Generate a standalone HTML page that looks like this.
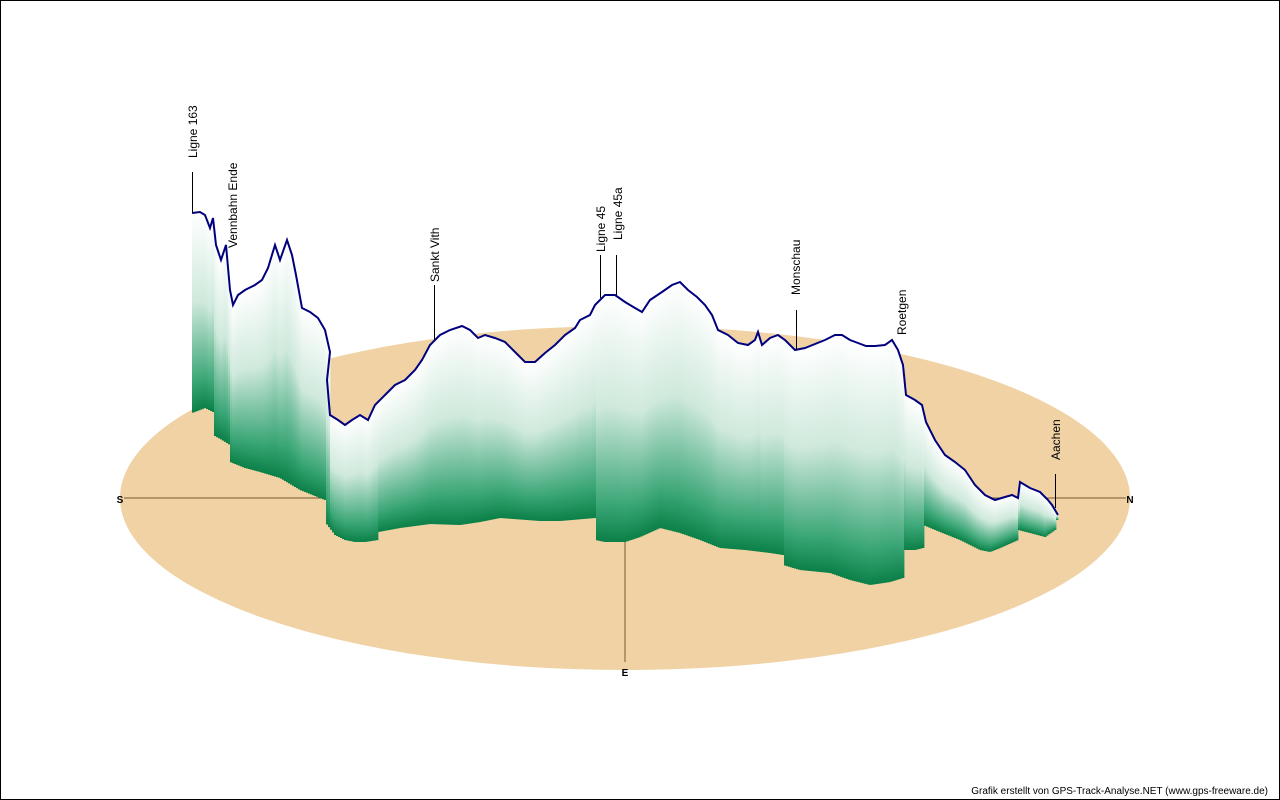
<!DOCTYPE html>
<html><head><meta charset="utf-8"><style>
html,body{margin:0;padding:0;background:#fff}
svg{display:block}
text{font-family:"Liberation Sans",sans-serif;font-size:12px;fill:#000}
</style></head><body>
<svg id="s" width="1280" height="800" viewBox="0 0 1280 800" xmlns="http://www.w3.org/2000/svg">
<defs>
<linearGradient id="g" x1="0" y1="0" x2="0" y2="1">
<stop offset="0" stop-color="#ffffff"/>
<stop offset="0.45" stop-color="#cfe9dc"/>
<stop offset="0.85" stop-color="#3aa676"/>
<stop offset="1" stop-color="#0b8047"/>
</linearGradient>
</defs>
<rect x="0.5" y="0.5" width="1279" height="799" fill="#fff" stroke="#000"/>
<ellipse cx="625" cy="498" rx="505" ry="172" fill="#f0d2a4"/>
<line x1="124" y1="498" x2="1126" y2="498" stroke="#7a5a30" stroke-width="1"/>
<line x1="625" y1="498" x2="625" y2="662" stroke="#7a5a30" stroke-width="1"/>
<text x="120" y="503" text-anchor="middle" font-weight="bold" style="font-size:10px">S</text>
<text x="1130" y="503" text-anchor="middle" font-weight="bold" style="font-size:10px">N</text>
<text x="625" y="676" text-anchor="middle" font-weight="bold" style="font-size:10px">E</text>
<g id="strips"></g>
<polyline id="top" fill="none" stroke="#00007f" stroke-width="2"/>
<g stroke="#000" stroke-width="1">
<line x1="192.5" y1="172" x2="192.5" y2="213"/>
<line x1="434.5" y1="285" x2="434.5" y2="340"/>
<line x1="600.5" y1="255" x2="600.5" y2="298"/>
<line x1="616.5" y1="255" x2="616.5" y2="295"/>
<line x1="796.5" y1="310" x2="796.5" y2="350"/>
<line x1="1055.5" y1="474" x2="1055.5" y2="508"/>
</g>
<g>
<text transform="translate(197,158) rotate(-90)">Ligne 163</text>
<text transform="translate(237,248) rotate(-90)">Vennbahn Ende</text>
<text transform="translate(439,282) rotate(-90)">Sankt Vith</text>
<text transform="translate(605,252) rotate(-90)">Ligne 45</text>
<text transform="translate(622,240) rotate(-90)">Ligne 45a</text>
<text transform="translate(800,295) rotate(-90)">Monschau</text>
<text transform="translate(906,335) rotate(-90)">Roetgen</text>
<text transform="translate(1060,460) rotate(-90)">Aachen</text>
</g>
<text x="1268" y="794" text-anchor="end" style="font-size:10px">Grafik erstellt von GPS-Track-Analyse.NET (www.gps-freeware.de)</text>
</svg>
<script>
var T=[[192,213],[200,212],[205,215],[210,228],[213,218],[216,245],[221,260],[226,245],[230,290],[233,305],[238,295],[245,290],[255,285],[262,280],[268,268],[275,245],[280,260],[287,240],[292,255],[296,275],[302,308],[310,312],[318,318],[325,330],[330,352],[327,380],[330,415],[338,420],[345,425],[352,420],[360,415],[368,420],[375,405],[385,395],[395,385],[405,380],[415,370],[422,360],[430,345],[440,335],[450,330],[462,326],[470,330],[478,338],[485,335],[495,338],[505,342],[515,352],[525,362],[535,362],[545,353],[555,345],[565,335],[575,328],[580,320],[590,315],[595,305],[605,295],[615,295],[625,302],[635,308],[642,312],[650,300],[662,292],[672,285],[680,282],[688,290],[697,297],[705,305],[712,315],[718,330],[728,335],[738,343],[748,345],[755,340],[758,332],[762,345],[770,338],[778,335],[785,340],[795,350],[805,348],[815,344],[825,340],[835,335],[842,335],[850,340],[858,343],[866,346],[875,346],[885,345],[892,340],[898,350],[903,365],[906,395],[915,400],[922,405],[926,422],[935,440],[945,455],[955,462],[965,470],[975,485],[985,495],[995,500],[1005,497],[1012,495],[1018,498],[1020,482],[1030,488],[1040,492],[1048,500],[1052,505],[1058,515]];
var B=[[192,413],[205,408],[213,412],[213.1,435],[222,440],[230,445],[230.1,462],[245,468],[260,472],[280,478],[300,490],[325,500],[325.1,522],[335,535],[345,540],[355,542],[365,542],[378,540],[378.1,532],[400,528],[430,524],[460,525],[480,522],[500,518],[540,521],[560,521],[595,518],[595.1,540],[605,542],[625,542],[640,537],[660,528],[680,533],[700,540],[720,548],[745,550],[770,553],[783,555],[783.1,565],[800,570],[830,573],[850,580],[870,585],[890,582],[903,578],[903.1,550],[915,550],[923,548],[923.1,525],[940,532],[960,540],[980,550],[990,552],[1000,548],[1018,540],[1018.1,530],[1030,533],[1045,537],[1055,530],[1058,515]];
function f(P,x){for(var i=1;i<P.length;i++){if(x<=P[i][0]){var a=P[i-1],b=P[i];var t=(x-a[0])/((b[0]-a[0])||1);return a[1]+t*(b[1]-a[1]);}}return P[P.length-1][1];}
var ns="http://www.w3.org/2000/svg",g=document.getElementById("strips");
for(var x=192;x<1058;x+=2){var y1=f(T,x+1),y2=f(B,x+1);if(y2<=y1)continue;var r=document.createElementNS(ns,"rect");r.setAttribute("x",x);r.setAttribute("y",y1);r.setAttribute("width",2.4);r.setAttribute("height",y2-y1);r.setAttribute("fill","url(#g)");g.appendChild(r);}
document.getElementById("top").setAttribute("points",T.map(function(p){return p.join(",")}).join(" "));
</script>
</body></html>
